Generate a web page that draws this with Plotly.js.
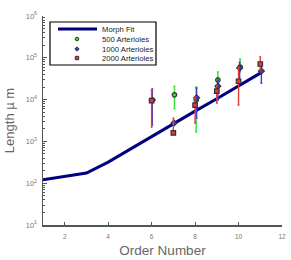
<!DOCTYPE html>
<html>
<head>
<meta charset="utf-8">
<script src="https://cdn.plot.ly/plotly-3.0.1.min.js"></script>
<style>html,body{margin:0;padding:0;background:#fff}#chart{width:291px;height:260px}</style>
</head>
<body>
<div id="chart"></div>
<script>
// Morph fit
const fitOrder = [1, 2, 3, 4, 5, 6, 7, 8, 9, 10, 11];
const fitLength = [120, 145, 175, 320, 650, 1300, 2700, 5300, 10500, 21000, 43000];

// 500 Arterioles (green)
const order500 = [7.05, 8.05, 9.05, 10.07];
const len500 = [13000, 9800, 29500, 60000];
const hi500 = [21000, 20000, 46000, 94000];
const lo500 = [6000, 1670, 15000, 46000];

// 1000 Arterioles (blue)
const order1000 = [6.03, 7.03, 8.07, 9.05, 10.05, 11.05];
const len1000 = [9800, 2750, 11000, 21000, 57000, 48000];
const hi1000 = [18000, 3000, 19000, 29500, 79000, 63000];
const lo1000 = [2450, 2500, 3600, 9800, 29500, 25000];

// 2000 Arterioles (red)
const order2000 = [6.0, 7.0, 8.0, 9.0, 10.0, 11.0];
const len2000 = [9400, 1600, 7400, 16000, 27500, 71000];
const hi2000 = [17000, 3600, 11500, 22000, 60000, 105000];
const lo2000 = [2200, 1450, 2750, 8300, 7400, 51000];

const seriesNames = ['Morph Fit', '500 Arterioles', '1000 Arterioles', '2000 Arterioles'];
const yTickVals = [10, 100, 1000, 10000, 100000, 1000000];
const yTickText = ['10<sup>1</sup>', '10<sup>2</sup>', '10<sup>3</sup>', '10<sup>4</sup>', '10<sup>5</sup>', '10<sup>6</sup>'];
const xTickVals = [2, 4, 6, 8, 10, 12];

const minorVals = [];
for (let d = 1; d < 6; d++) for (let k = 2; k <= 9; k++) minorVals.push(k * Math.pow(10, d));

const colGreen = '#33dd33', colBlue = '#3b3bd8', colRed = '#e03a3a', colFit = '#000080';

function errs(v, hi, lo, color) {
  return {
    type: 'data', symmetric: false,
    array: v.map((x, i) => Math.max(hi[i] - x, 0)),
    arrayminus: v.map((x, i) => Math.max(x - lo[i], 0)),
    color: color, thickness: 1.4, width: 1
  };
}

const mk = (sym, col) => ({symbol: sym, size: 4.5, color: col, line: {color: '#333', width: 1.2}});

const traces = [
  {x: fitOrder, y: fitLength, mode: 'lines', name: seriesNames[0],
   line: {color: colFit, width: 3}},
  {x: order500, y: len500, mode: 'markers', name: seriesNames[1],
   marker: mk('circle', colGreen), error_y: errs(len500, hi500, lo500, colGreen)},
  {x: order1000, y: len1000, mode: 'markers', name: seriesNames[2],
   marker: mk('diamond', colBlue), error_y: errs(len1000, hi1000, lo1000, colBlue)},
  {x: order2000, y: len2000, mode: 'markers', name: seriesNames[3],
   marker: mk('square', colRed), error_y: errs(len2000, hi2000, lo2000, colRed)}
];

// plot area in pixels: x 43..282, y 16..225
const L = 43, R = 282, T = 16, B = 225;
const px = p => (p - L) / (R - L);
const py = p => (B - p) / (B - T);

const shapes = [
  {type: 'rect', xref: 'paper', yref: 'paper', x0: px(50), x1: px(156), y0: py(65), y1: py(22),
   fillcolor: '#fff', line: {color: '#000', width: 1.2}, layer: 'above'},
  {type: 'line', xref: 'paper', yref: 'paper', x0: px(58), x1: px(97), y0: py(29), y1: py(29),
   line: {color: colFit, width: 3}, layer: 'above'},
  {type: 'circle', xref: 'paper', yref: 'paper', x0: px(75.2), x1: px(78.8), y0: py(40.8), y1: py(37.2),
   fillcolor: colGreen, line: {color: '#333', width: 1}, layer: 'above'},
  {type: 'path', xref: 'paper', yref: 'paper',
   path: `M ${px(77)} ${py(46.8)} L ${px(79.2)} ${py(49)} L ${px(77)} ${py(51.2)} L ${px(74.8)} ${py(49)} Z`,
   fillcolor: colBlue, line: {color: '#333', width: 1}, layer: 'above'},
  {type: 'rect', xref: 'paper', yref: 'paper', x0: px(75.3), x1: px(78.7), y0: py(59.7), y1: py(56.3),
   fillcolor: colRed, line: {color: '#333', width: 1}, layer: 'above'}
];
const legY = [29, 39, 49, 58];
const annotations = seriesNames.map((n, i) => ({
  text: n, xref: 'paper', yref: 'paper', x: px(100), y: py(legY[i]),
  xanchor: 'left', yanchor: 'middle', showarrow: false,
  font: {size: 7.7, color: '#222'}
}));

const layout = {
  width: 291, height: 260,
  margin: {l: 43, r: 9, t: 16, b: 35},
  paper_bgcolor: '#fff', plot_bgcolor: '#fff',
  font: {family: 'Liberation Sans, Arial, sans-serif', color: '#666'},
  showlegend: false,
  shapes: shapes, annotations: annotations,
  xaxis: {range: [1, 12], tickvals: xTickVals, ticks: 'inside', ticklen: 3,
    tickcolor: '#555', showline: true, linecolor: '#555', linewidth: 1.5,
    showgrid: false, zeroline: false, tickfont: {size: 6.5, color: '#777'},
    ticklabelstandoff: 5,
    title: {text: 'Order Number', font: {size: 13.5, color: '#666'}, standoff: 6}},
  yaxis: {type: 'log', range: [1, 6], tickvals: yTickVals, ticktext: yTickText,
    ticks: 'inside', ticklen: 4, tickcolor: '#555', showline: true,
    linecolor: '#555', linewidth: 1.5, showgrid: false, zeroline: false,
    tickfont: {size: 7.5, color: '#777'}, ticklabelstandoff: 3,
    minor: {tickvals: minorVals, ticks: 'inside', ticklen: 2, tickcolor: '#555', showgrid: false},
    title: {text: 'Length µ m', font: {size: 13, color: '#666'}, standoff: 8}}
};

Plotly.newPlot('chart', traces, layout, {staticPlot: true, displayModeBar: false});
</script>
</body>
</html>
